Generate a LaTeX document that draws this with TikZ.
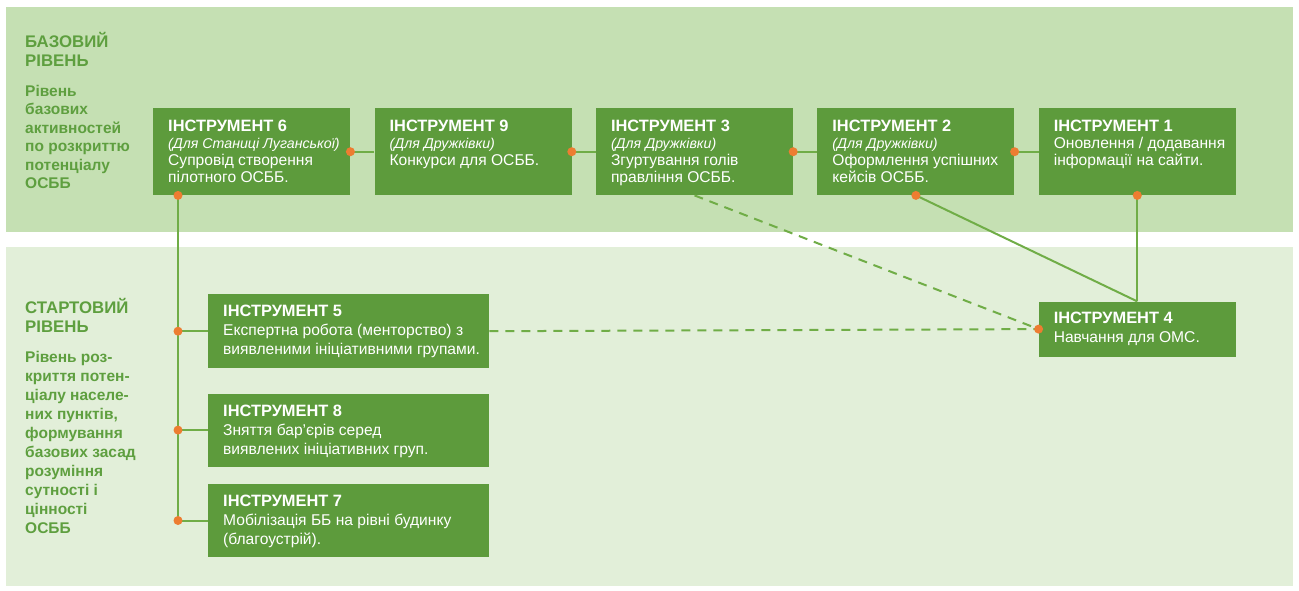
\documentclass[tikz,border=0pt]{standalone}
\usepackage{fontspec}
\setmainfont{Liberation Sans}
\usetikzlibrary{positioning}
\definecolor{boxgreen}{HTML}{5D9B3C}
\definecolor{linegreen}{HTML}{70AD47}
\definecolor{sidegreen}{HTML}{5E9F3F}
\definecolor{topband}{HTML}{C5E0B3}
\definecolor{lowband}{HTML}{E2EFD9}
\definecolor{dotorange}{HTML}{ED7D31}
\newcommand\toolhead[1]{{\fontsize{16.4}{17}\selectfont\bfseries #1}}
\newcommand\toolfor[1]{{\fontsize{14.2}{17}\selectfont\itshape #1}}

\begin{document}
\begin{tikzpicture}[x=1pt,y=-1pt,
  box/.style={fill=boxgreen, minimum width=197pt, minimum height=87pt, inner sep=0pt},
  widebox/.style={box, minimum width=281pt, minimum height=73pt},
  txt/.style={anchor=north west, inner sep=0pt, text=white, align=left, font=\fontsize{15.6}{17}\selectfont},
  lowtxt/.style={txt, font=\fontsize{15.6}{19}\selectfont},
  side/.style={anchor=north west, inner sep=0pt, text=sidegreen, align=left, font=\fontsize{15.5}{18.5}\selectfont\bfseries},
  link/.style={draw=linegreen, line width=2pt},
  dash link/.style={link, dash pattern=on 9pt off 7pt}]
\useasboundingbox (0,0) rectangle (1299,590);
\fill[white] (0,0) rectangle (1299,590);
\fill[topband] (6,7) rectangle (1293,232);
\fill[lowband] (6,247) rectangle (1293,586);

% levels
\node[side, font=\fontsize{16.8}{19}\selectfont\bfseries] (basetitle) at (25,32) {БАЗОВИЙ\\РІВЕНЬ};
\node[side] (basedesc) at (25,85) {Рівень\\базових\\активностей\\по розкриттю\\потенціалу\\ОСББ};
\node[side, font=\fontsize{16.8}{19}\selectfont\bfseries] (starttitle) at (25,298) {СТАРТОВИЙ\\РІВЕНЬ};
\node[side, font=\fontsize{15.5}{19}\selectfont\bfseries] (startdesc) at (25,351) {Рівень роз-\\криття потен-\\ціалу населе-\\них пунктів,\\формування\\базових засад\\розуміння\\сутності і\\цінності\\ОСББ};

% top row
\node[box, anchor=north west] (t6) at (153,108) {};
\node[box, right=24pt of t6] (t9) {};
\node[box, right=24pt of t9] (t3) {};
\node[box, right=24pt of t3] (t2) {};
\node[box, right=24pt of t2] (t1) {};
\node[box, minimum height=55pt, below=106pt of t1] (t4) {};

% start row
\node[widebox, minimum height=74pt, anchor=north west] (t5) at (208,294) {};
\node[widebox, below=25pt of t5] (t8) {};
\node[widebox, below=17pt of t8] (t7) {};

\node[txt] (t6txt) at ([shift={(15,12)}]t6.north west) {\toolhead{ІНСТРУМЕНТ 6}\\\toolfor{(Для Станиці Луганської)}\\Супровід створення\\пілотного ОСББ.};
\node[txt] (t9txt) at ([shift={(15,12)}]t9.north west) {\toolhead{ІНСТРУМЕНТ 9}\\\toolfor{(Для Дружківки)}\\Конкурси для ОСББ.};
\node[txt] (t3txt) at ([shift={(15,12)}]t3.north west) {\toolhead{ІНСТРУМЕНТ 3}\\\toolfor{(Для Дружківки)}\\Згуртування голів\\правління ОСББ.};
\node[txt] (t2txt) at ([shift={(15,12)}]t2.north west) {\toolhead{ІНСТРУМЕНТ 2}\\\toolfor{(Для Дружківки)}\\Оформлення успішних\\кейсів ОСББ.};
\node[txt] (t1txt) at ([shift={(15,12)}]t1.north west) {\toolhead{ІНСТРУМЕНТ 1}\\Оновлення / додавання\\інформації на сайти.};
\node[lowtxt] (t4txt) at ([shift={(15,10)}]t4.north west) {\toolhead{ІНСТРУМЕНТ 4}\\Навчання для ОМС.};
\node[lowtxt] (t5txt) at ([shift={(15,11)}]t5.north west) {\toolhead{ІНСТРУМЕНТ 5}\\Експертна робота (менторство) з\\виявленими ініціативними групами.};
\node[lowtxt] (t8txt) at ([shift={(15,11)}]t8.north west) {\toolhead{ІНСТРУМЕНТ 8}\\Зняття бар'єрів серед\\виявлених ініціативних груп.};
\node[lowtxt] (t7txt) at ([shift={(15,11)}]t7.north west) {\toolhead{ІНСТРУМЕНТ 7}\\Мобілізація ББ на рівні будинку\\(благоустрій).};

% connectors
\coordinate (trunk) at ([xshift=25pt]t6.south west);
\draw[link] (trunk) -- (trunk |- t7.west);
\foreach \b in {t5,t8,t7}{
  \draw[link] (trunk |- \b.west) -- (\b.west);
  \fill[dotorange] (trunk |- \b.west) circle (4.5pt);
}
\draw[link] (t6.east) -- (t9.west);
\draw[link] (t9.east) -- (t3.west);
\draw[link] (t3.east) -- (t2.west);
\draw[link] (t2.east) -- (t1.west);
\draw[link] (t2.south) -- (t4.north);
\draw[link] (t1.south) -- (t4.north);
\draw[dash link] (t3.south) -- (t4.west);
\draw[dash link] (t5.east) -- (t4.west);
\foreach \p in {t6.east,t9.east,t3.east,t2.east,t2.south,t1.south,t4.west,trunk}
  \fill[dotorange] (\p) circle (4.5pt);
\end{tikzpicture}
\end{document}
